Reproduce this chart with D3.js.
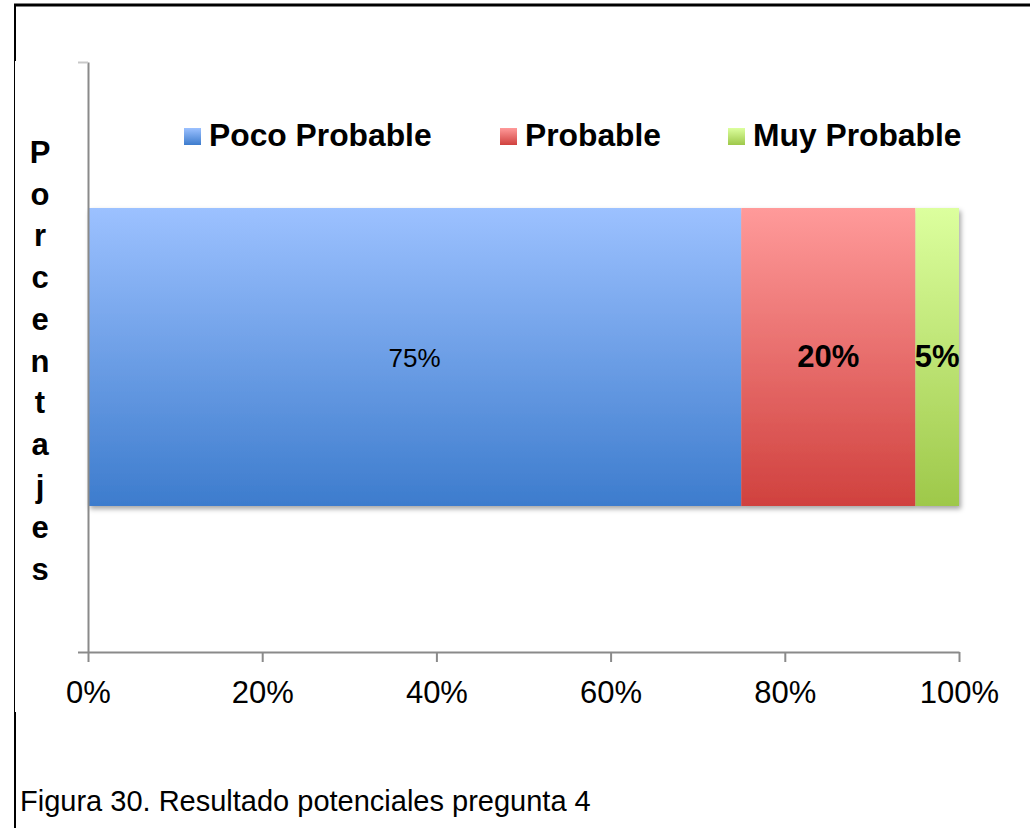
<!DOCTYPE html>
<html>
<head>
<meta charset="utf-8">
<script src="https://cdn.jsdelivr.net/npm/d3@7"></script>
<style>
  html, body { margin: 0; padding: 0; background: #fff; }
  svg { display: block; font-family: "Liberation Sans", Arial, sans-serif; }
</style>
</head>
<body>
<svg id="chart" width="1030" height="828"></svg>
<script>
// Series of the single stacked 100% bar
const seriesNames = ["Poco Probable", "Probable", "Muy Probable"];
const seriesValues = [75, 20, 5];
const seriesTop = ["#9cc1ff", "#ff9a9a", "#dcff9e"];
const seriesBottom = ["#3d7ccd", "#d0413e", "#9ec84a"];
const labelBold = [false, true, true];
const categories = ["Pregunta 4"];
const xTicks = [0, 20, 40, 60, 80, 100];
const yTitle = "Porcentajes";
const caption = "Figura 30. Resultado potenciales pregunta 4";

const svg = d3.select("#chart");
const defs = svg.append("defs");

seriesNames.forEach((n, i) => {
  const g = defs.append("linearGradient")
    .attr("id", "grad" + i).attr("x1", 0).attr("y1", 0).attr("x2", 0).attr("y2", 1);
  g.append("stop").attr("offset", "0%").attr("stop-color", seriesTop[i]);
  g.append("stop").attr("offset", "100%").attr("stop-color", seriesBottom[i]);
});

const shadow = defs.append("filter").attr("id", "shadow")
  .attr("x", "-5%").attr("y", "-5%").attr("width", "115%").attr("height", "120%");
shadow.append("feDropShadow").attr("dx", 2).attr("dy", 3).attr("stdDeviation", 2.5)
  .attr("flood-color", "#000").attr("flood-opacity", 0.35);

// Page frame around the figure
svg.append("line").attr("x1", 14).attr("x2", 1030).attr("y1", 5).attr("y2", 5)
  .attr("stroke", "#000").attr("stroke-width", 3);
svg.append("line").attr("x1", 15).attr("x2", 15).attr("y1", 4).attr("y2", 61)
  .attr("stroke", "#000").attr("stroke-width", 2);
svg.append("line").attr("x1", 14.5).attr("x2", 14.5).attr("y1", 61).attr("y2", 712)
  .attr("stroke", "#000").attr("stroke-width", 1);
svg.append("line").attr("x1", 15).attr("x2", 15).attr("y1", 712).attr("y2", 828)
  .attr("stroke", "#000").attr("stroke-width", 2);

// Scales
const x = d3.scaleLinear().domain([0, 100]).range([88, 959]);
const y = d3.scaleBand().domain(categories).range([62, 652]).paddingInner(0).paddingOuter(0.49);
const yEdge = d3.scaleLinear().domain([0, 1]).range([652, 62]);

// Stacked segments
const ends = d3.cumsum(seriesValues);
const segs = seriesValues.map((v, i) => ({ i, v, x0: ends[i] - v, x1: ends[i] }));

const barG = svg.append("g").attr("filter", "url(#shadow)");
barG.selectAll("rect").data(segs).join("rect")
  .attr("x", d => x(d.x0))
  .attr("width", d => x(d.x1) - x(d.x0))
  .attr("y", y(categories[0]))
  .attr("height", y.bandwidth())
  .attr("fill", d => "url(#grad" + d.i + ")");

// Value labels
svg.append("g").selectAll("text").data(segs).join("text")
  .attr("x", d => (x(d.x0) + x(d.x1)) / 2)
  .attr("y", y(categories[0]) + y.bandwidth() / 2 + 10)
  .attr("text-anchor", "middle")
  .attr("font-size", d => labelBold[d.i] ? 31 : 26)
  .attr("font-weight", d => labelBold[d.i] ? "bold" : "normal")
  .attr("fill", "#000")
  .text(d => d.v + "%");

// Axes
const axisColor = "#8a8a8a";
const xAxis = svg.append("g").attr("transform", "translate(0,652)")
  .call(d3.axisBottom(x).tickValues(xTicks).tickFormat(d => d + "%").tickSize(10).tickSizeOuter(0));
xAxis.select(".domain").attr("stroke", axisColor).attr("stroke-width", 2);
xAxis.selectAll(".tick line").attr("stroke", axisColor).attr("stroke-width", 2);
xAxis.selectAll(".tick text").attr("font-size", 31).attr("fill", "#000")
  .attr("font-family", "'Liberation Sans', Arial, sans-serif").attr("dy", 0).attr("y", 51);

const yAxis = svg.append("g").attr("transform", "translate(88,0)")
  .call(d3.axisLeft(yEdge).tickValues([0, 1]).tickFormat("").tickSize(10).tickSizeOuter(0));
yAxis.select(".domain").attr("stroke", axisColor).attr("stroke-width", 2);
yAxis.selectAll(".tick line").attr("stroke", "#c8c8c8").attr("stroke-width", 2);
yAxis.selectAll(".tick").filter(d => d === 0).select("line").attr("stroke", axisColor);

// Vertical stacked axis title
svg.append("g").selectAll("text").data(yTitle.split("")).join("text")
  .attr("x", 40).attr("y", (d, i) => 163 + i * 41.7)
  .attr("text-anchor", "middle")
  .attr("font-size", 31).attr("font-weight", "bold").attr("fill", "#000")
  .text(d => d);

// Legend
const legendX = [184, 500, 728];
const legend = svg.append("g").selectAll("g").data(seriesNames).join("g")
  .attr("transform", (d, i) => `translate(${legendX[i]},128)`);
legend.append("rect").attr("width", 17).attr("height", 17)
  .attr("fill", (d, i) => "url(#grad" + i + ")");
legend.append("text").attr("x", 25).attr("y", 18)
  .attr("font-size", 31.8).attr("font-weight", "bold").attr("fill", "#000")
  .text(d => d);

// Figure caption
svg.append("text").attr("x", 20).attr("y", 811)
  .attr("font-size", 29).attr("fill", "#000")
  .text(caption);
</script>
</body>
</html>
